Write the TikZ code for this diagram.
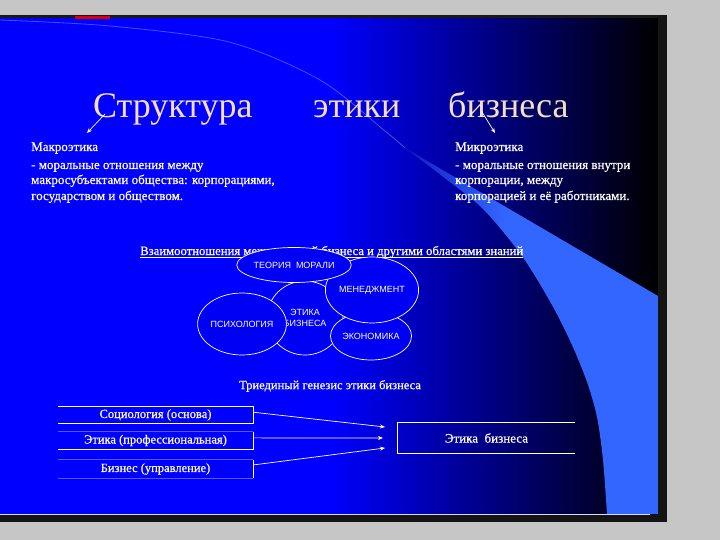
\documentclass[tikz,border=0pt]{standalone}
\usepackage{fontspec}
\setmainfont{Liberation Serif}[FakeBold=0.6]
\newfontfamily\titlef{Liberation Serif}
\newfontfamily\arialf{Liberation Sans}
\usetikzlibrary{shapes.geometric,arrows.meta,calc}
\definecolor{outergrey}{RGB}{198,198,198}
\definecolor{slideblue}{RGB}{0,0,255}
\definecolor{wedgelight}{RGB}{51,102,255}
\definecolor{wedgedark}{RGB}{12,26,190}
\definecolor{titlecream}{RGB}{246,222,196}
\definecolor{ellfill}{RGB}{0,0,245}
\tikzset{
  txt/.style={text=white, inner sep=0pt, anchor=base west, font=\fontsize{13}{15}\selectfont},
  ctxt/.style={text=white, inner sep=0pt, font=\fontsize{12.5}{14}\selectfont},
  ttl/.style={inner sep=0pt, anchor=base west, font=\titlef\fontsize{36}{40}\selectfont},
  ell/.style={ellipse, draw=white, line width=0.7pt, fill=ellfill, inner sep=0pt, text=white, align=center, font=\arialf\fontsize{9}{10.5}\selectfont},
  lbox/.style={rectangle, inner sep=0pt, minimum width=195pt, text=white, font=\fontsize{12.5}{14}\selectfont},
  wline/.style={white, line width=0.8pt},
  fline/.style={white, opacity=0.35, line width=0.8pt},
  arr/.style={white, line width=0.7pt, -{Stealth[length=5pt,width=4pt]}}
}
\begin{document}
\begin{tikzpicture}[x=1pt,y=-1pt]
\useasboundingbox (0,0) rectangle (720,540);
% outer background
\fill[outergrey] (0,0) rectangle (720,540);
% slide background
\fill[slideblue] (0,17) rectangle (331,514);
\shade[left color=slideblue, right color=black] (330,17) rectangle (658,514);
% light wedge
\begin{scope}
\clip (405,148) -- (658,296) -- (658,514) -- (607,514) -- plot[smooth] coordinates {(607,514) (603,460) (597,417) (587,382) (572,345) (552,305) (522,256) (483,209) (442,176) (405,148)} -- cycle;
\shade[left color=wedgedark, right color=wedgelight] (400,140) rectangle (505,520);
\fill[wedgelight] (504,140) rectangle (660,520);
\end{scope}
% faint arc line
\draw[white, opacity=0.3, line width=0.8pt] plot[smooth] coordinates {(0,20) (110,26) (229,42) (320,80) (385,131) (405,148)};
% frame
\fill[black!90] (0,15) rectangle (660,18);
\fill[red!85!black] (75,16) rectangle (110,19);
\fill[black!92] (658,15) rectangle (667,522);
\fill[black!92] (0,515) rectangle (667,522);
\draw[white!85!blue, line width=1pt] (0,514.5) -- (650,514.5);
% title
\node[ttl, text=titlecream] (t1) at (93,118) {Структура};
\node[ttl, text=titlecream] (t2) at (313,118) {этики};
\node[ttl, text=titlecream] (t3) at (448,118) {бизнеса};
\coordinate (a1s) at (105,114); \coordinate (a1e) at (87,133);
\coordinate (a2s) at (482,112); \coordinate (a2e) at (495,133);
\draw[arr] (a1s) -- (a1e);
\draw[arr] (a2s) -- (a2e);
% macro / micro
\node[txt] (mac1) at (31,151) {Макроэтика};
\node[txt] (mac2) at (31,169) {- моральные отношения между};
\node[txt] (mac3) at (31,184) {макросубъектами общества: корпорациями,};
\node[txt] (mac4) at (31,200) {государством и обществом.};
\node[txt] (mic1) at (455,151) {Микроэтика};
\node[txt] (mic2) at (455,169) {- моральные отношения внутри};
\node[txt] (mic3) at (455,184) {корпорации, между};
\node[txt] (mic4) at (455,200) {корпорацией и её работниками.};
% heading
\node[txt, font=\fontsize{12.7}{15}\selectfont] (head) at (140,255) {Взаимоотношения между этикой бизнеса и другими областями знаний};
\draw[white, line width=0.7pt] ([yshift=-2pt]head.base west) -- ([yshift=-2pt]head.base east);
% ellipses
\node[ell, minimum width=76pt, minimum height=74pt] (etb) at (305,318) {ЭТИКА\\БИЗНЕСА};
\node[ell, minimum width=72pt, minimum height=62pt] (psy) at (242,324) {ПСИХОЛОГИЯ};
\node[ell, minimum width=64pt, minimum height=48pt] (eco) at (371,336) {ЭКОНОМИКА};
\node[ell, minimum width=74pt, minimum height=66pt] (man) at (372,290) {МЕНЕДЖМЕНТ};
\node[ell, minimum width=95pt, minimum height=35pt] (tm) at (294,265) {ТЕОРИЯ \ МОРАЛИ};
% triune genesis
\node[ctxt] (tri) at (330,386) {Триединый генезис этики бизнеса};
\node[lbox, minimum height=16pt] (b1) at (155.5,415) {Социология (основа)};
\node[lbox, minimum height=17pt] (b2) at (155.5,440.5) {Этика (профессиональная)};
\node[lbox, minimum height=18pt] (b3) at (155.5,469) {Бизнес (управление)};
\draw[wline] (b1.north west) -- (b1.north east) -- (b1.south east) -- (b1.south west);
\draw[fline] (b2.north west) -- (b2.north east);
\draw[wline] (b2.north east) -- (b2.south east) -- (b2.south west);
\draw[fline] (b3.north west) -- (b3.north east);
\draw[fline] (b3.south west) -- (b3.south east);
\draw[wline] (b3.north east) -- (b3.south east);
\node[rectangle, inner sep=0pt, minimum width=177pt, minimum height=30pt, text=white, font=\fontsize{13}{15}\selectfont] (tgt) at (486.5,438) {Этика\ \ бизнеса};
\draw[wline] (tgt.north east) -- (tgt.north west) -- (tgt.south west) -- (tgt.south east);
\coordinate (e1) at (385,427);
\coordinate (e2) at (383,438);
\coordinate (e3) at (385,448);
\draw[arr] ($(b1.north east)!0.33!(b1.south east)$) -- (e1);
\draw[arr] ($(b2.north east)!0.35!(b2.south east)$) -- (e2);
\draw[arr] ($(b3.north east)!0.28!(b3.south east)$) -- (e3);
\end{tikzpicture}
\end{document}
